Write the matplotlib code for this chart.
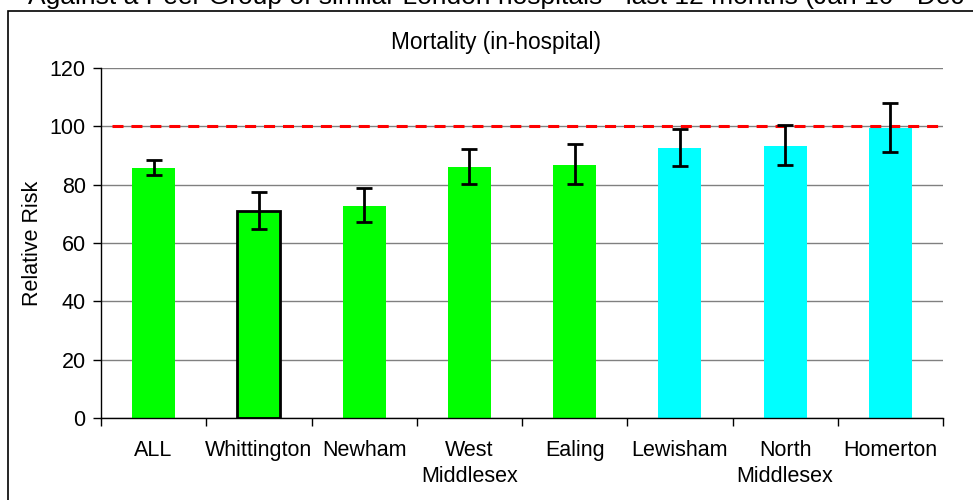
import matplotlib
matplotlib.use("Agg")
import matplotlib.pyplot as plt
from matplotlib.patches import Rectangle
import numpy as np

plt.rcParams['font.family'] = ['Liberation Sans', 'DejaVu Sans']

hospitals = ["ALL", "Whittington", "Newham", "West\nMiddlesex", "Ealing",
             "Lewisham", "North\nMiddlesex", "Homerton"]
relative_risk = [85.7, 71.0, 72.7, 86.0, 86.7, 92.6, 93.2, 99.4]
ci_low = [83.2, 64.7, 67.1, 80.1, 80.1, 86.4, 86.6, 91.2]
ci_high = [88.4, 77.6, 78.7, 92.4, 93.8, 99.0, 100.5, 107.9]
bar_colours = ["#00FF00"] * 5 + ["#00FFFF"] * 3
benchmark = 100

W, H = 973, 500
fig = plt.figure(figsize=(W / 100, H / 100), dpi=100)

# outer chart frame (runs off the right and bottom of the crop)
fig.patches.append(Rectangle((8 / W, -0.1), 1.2, 1 - 11 / H + 0.1,
                             transform=fig.transFigure, fill=False,
                             edgecolor="black", linewidth=1.2))
# header sits mostly above the crop, like in the source image
fig.text(28 / W, 1 - 4 / H,
         "Against a Peer Group of similar London hospitals - last 12 months (Jan 10 - Dec 10)",
         fontsize=19, va="baseline", ha="left")

ax = fig.add_axes([101 / W, 1 - 418 / H, 842 / W, 350 / H])

x = np.arange(len(hospitals))
err = [np.array(relative_risk) - np.array(ci_low),
       np.array(ci_high) - np.array(relative_risk)]
bars = ax.bar(x, relative_risk, width=0.41, color=bar_colours, zorder=2)
bars[1].set_edgecolor("black")
bars[1].set_linewidth(2)
ax.errorbar(x, relative_risk, yerr=err, fmt="none", ecolor="black",
            elinewidth=2, capsize=5.5, capthick=2, zorder=4)

ax.hlines(benchmark, -0.395, 7.5, colors="#FF0000", linewidth=2.2,
          linestyles=(0, (3.6, 2.6)), zorder=3)

ax.set_xlim(-0.5, 7.5)
ax.set_ylim(0, 120)
ax.set_yticks(range(0, 121, 20))
ax.yaxis.grid(True, color="#808080", linewidth=1)
ax.set_axisbelow(True)

ax.set_xticks(x)
ax.set_xticklabels(hospitals, fontsize=15.5, va="top", linespacing=1.3)
ax.set_xticks(np.arange(-0.5, 8, 1), minor=True)
ax.tick_params(axis="x", which="major", length=0, pad=16)
ax.tick_params(axis="x", which="minor", length=6, direction="out", width=1)
ax.tick_params(axis="y", length=6, direction="out", width=1, labelsize=15.5, pad=5)

for side in ["top", "right"]:
    ax.spines[side].set_visible(False)
ax.spines["left"].set_linewidth(1)
ax.spines["bottom"].set_linewidth(1)

ax.set_ylabel("Relative Risk", fontsize=15.5, labelpad=5)
fig.text(496 / W, 1 - 42 / H, "Mortality (in-hospital)", fontsize=16.3,
         ha="center", va="center")

fig.savefig("out.png", dpi=100)
